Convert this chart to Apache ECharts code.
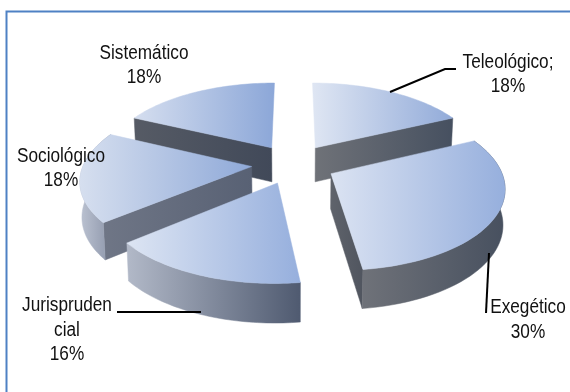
<!DOCTYPE html>
<html>
<head>
<meta charset="utf-8">
<style>html,body{margin:0;padding:0;background:#fff}#c{width:570px;height:392px}</style>
<script src="https://cdn.jsdelivr.net/npm/echarts@6/dist/echarts.min.js"></script>
</head>
<body>
<div id="c"></div>
<script>
const categories = ['Teleológico', 'Exegético', 'Jurisprudencial', 'Sociológico', 'Sistemático'];
const values = [18, 30, 16, 18, 18];
const labelNames = ['Teleológico;', 'Exegético', 'Jurispruden\ncial', 'Sociológico', 'Sistemático'];
const labelAnchors = [[508, 74.5], [528, 320], [67, 330], [61, 168.5], [144, 65.5]];
const leaderLines = [
  [[390, 92], [445, 69], [456, 69]],
  [[489, 253], [486, 313]],
  [[117, 312], [201, 312]],
  null,
  null
];
// Colours: [top light, top dark, arc wall left, arc wall right, radial wall left, radial wall right]
const palettes = [
  ['#dfe6f3', '#92abd9', '#555c69', '#454e5e', '#6f7278', '#465060'],
  ['#dbe3f2', '#96afdd', '#6f7279', '#47505f', '#5f636b', '#50555f'],
  ['#dde5f3', '#96afdd', '#b2b9c8', '#4f5a70', '#6c7280', '#4f5a70'],
  ['#d6dfef', '#8fa9d8', '#bcc3d2', '#8b94a8', '#6f7686', '#586174'],
  ['#d5deef', '#8ca7d8', '#555c69', '#454e5e', '#565b65', '#414959']
];
const CX = 293.5, CY = 164, RX = 168, RY = 79, P = 0.15, EXPLODE = 0.25, DEPTH = 34.7, DEPTH_P = 0.1, LOWER = 0.99;

const total = values.reduce((a, b) => a + b, 0);
let acc = 0;
const slices = values.map((v, i) => {
  const s = { i, start: acc / total * 2 * Math.PI, end: (acc + v) / total * 2 * Math.PI };
  acc += v;
  return s;
});
const drawOrder = [4, 0, 3, 1, 2];

function projTop(X, Y) {
  const w = 1 + P * Y;
  return [CX + RX * X / w, CY - RY * Y / w];
}
function projLow(X, Y) {
  const p = projTop(X, Y);
  return [CX + (p[0] - CX) * LOWER, p[1] + DEPTH / (1 + DEPTH_P * Y)];
}
function hGrad(a, b) {
  return new echarts.graphic.LinearGradient(0, 0, 1, 0, [{ offset: 0, color: a }, { offset: 1, color: b }]);
}
function poly(points, fill, z2) {
  return { type: 'polygon', z2, shape: { points }, style: { fill, stroke: fill, lineWidth: 0.5 } };
}
function renderSlice(params, api) {
  const idx = api.value(0);
  const s = slices[idx], pal = palettes[idx];
  const mid = (s.start + s.end) / 2;
  const ox = Math.sin(mid) * EXPLODE, oy = Math.cos(mid) * EXPLODE;
  const n = 48, arcTop = [], arcLow = [];
  for (let k = 0; k <= n; k++) {
    const t = s.start + (s.end - s.start) * k / n;
    const X = Math.sin(t) + ox, Y = Math.cos(t) + oy;
    arcTop.push(projTop(X, Y));
    arcLow.push(projLow(X, Y));
  }
  const at = projTop(ox, oy), al = projLow(ox, oy);
  const children = [];
  if (Math.cos(s.start - Math.PI / 2) < -0.01) {
    children.push(poly([at, arcTop[0], arcLow[0], al], hGrad(pal[4], pal[5]), 2));
  }
  if (Math.cos(s.end + Math.PI / 2) < -0.01) {
    children.push(poly([at, arcTop[n], arcLow[n], al], hGrad(pal[4], pal[5]), 2));
  }
  if (Math.cos(mid) < 0.2) {
    children.push(poly(arcTop.concat(arcLow.slice().reverse()), hGrad(pal[2], pal[3]), 3));
  }
  children.push(poly([at].concat(arcTop), hGrad(pal[0], pal[1]), 4));
  return { type: 'group', children };
}
function renderLabel(params, api) {
  const idx = api.value(0);
  const children = [];
  if (leaderLines[idx]) {
    children.push({
      type: 'polyline', shape: { points: leaderLines[idx] },
      style: { fill: 'none', stroke: '#000', lineWidth: 2 }
    });
  }
  const pct = Math.round(values[idx] / total * 100) + '%';
  children.push({
    type: 'text', x: labelAnchors[idx][0], y: labelAnchors[idx][1], scaleX: 0.86,
    style: {
      text: labelNames[idx] + '\n' + pct,
      font: '20px "Liberation Sans", Arial, sans-serif',
      lineHeight: 24.5, fill: '#111', align: 'center', verticalAlign: 'middle'
    }
  });
  return { type: 'group', children };
}
const chart = echarts.init(document.getElementById('c'), null, { renderer: 'canvas' });
chart.setOption({
  animation: false,
  backgroundColor: '#fff',
  graphic: [{
    type: 'polyline', silent: true,
    shape: { points: [[6.5, 392], [6.5, 11.5], [570, 11.5]] },
    style: { fill: 'none', stroke: '#4f81c4', lineWidth: 2 }
  }],
  series: [
    {
      type: 'custom', coordinateSystem: 'none', silent: true, z: 2,
      data: drawOrder.map(i => ({ name: categories[i], value: [i, values[i]] })),
      renderItem: renderSlice
    },
    {
      type: 'custom', coordinateSystem: 'none', silent: true, z: 3,
      data: categories.map((c, i) => ({ name: c, value: [i, values[i]] })),
      renderItem: renderLabel
    }
  ]
});
</script>
</body>
</html>
